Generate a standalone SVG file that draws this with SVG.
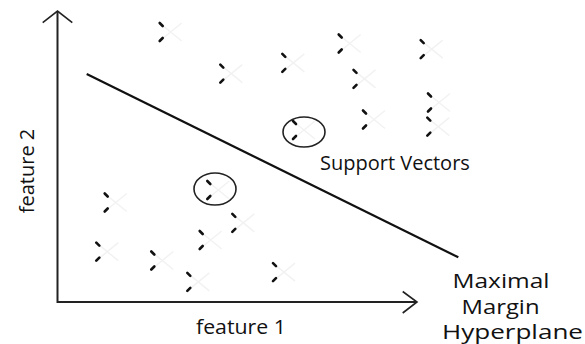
<svg xmlns="http://www.w3.org/2000/svg" width="585" height="344" viewBox="0 0 585 344">
<style>
.ax{stroke:#222;stroke-width:2;fill:none}
.hd{stroke:#222;stroke-width:1.6;fill:none}
.hp{stroke:#111;stroke-width:2.2;fill:none}
.sv{stroke:#222;stroke-width:1.6;fill:none}
.lb{font-family:"Open Sans","Noto Sans",sans-serif;font-size:20px;fill:#111}
.f{stroke:#f2f2f2;stroke-width:1.5;fill:none}
.d{stroke:#111;stroke-width:2.6;stroke-linecap:round;fill:none}
</style>
<defs>
<g id="mk">
<path class="f" d="M-2,-9 L20,9 M-2,9 L20,-9"/>
<path class="d" d="M-2,-9 L1,-6 M1,6 L-2,9"/>
</g>
</defs>
<g id="points">
<use href="#mk" x="161.7" y="32"/>
<use href="#mk" x="222.3" y="73.7"/>
<use href="#mk" x="284.3" y="62.8"/>
<use href="#mk" x="340.7" y="43.5"/>
<use href="#mk" x="422.7" y="49.2"/>
<use href="#mk" x="355.5" y="78.8"/>
<use href="#mk" x="430" y="102.5"/>
<use href="#mk" x="429.3" y="126.7"/>
<use href="#mk" x="365" y="119.5"/>
<use href="#mk" x="295" y="130"/>
<use href="#mk" x="106.7" y="202.5"/>
<use href="#mk" x="98.3" y="251.7"/>
<use href="#mk" x="153.3" y="260.5"/>
<use href="#mk" x="189.3" y="281.8"/>
<use href="#mk" x="201.7" y="240"/>
<use href="#mk" x="209.3" y="190"/>
<use href="#mk" x="234.3" y="222.8"/>
<use href="#mk" x="275" y="272.2"/>
</g>
<g id="support-circles">
<ellipse class="sv" cx="215" cy="189" rx="21" ry="16"/>
<ellipse class="sv" cx="304" cy="132" rx="21" ry="15"/>
</g>
<g id="connectors">
<path class="ax" d="M57.5,11 L57.5,302 L417,302"/>
<path class="hd" d="M42.7,22.7 L57.5,11 L72.3,22.7"/>
<path class="hd" d="M402.7,291.5 L417,302 L402.7,313"/>
<path class="hp" d="M86.7,74 L458.3,257.3"/>
</g>
<g id="labels">
<text class="lb" transform="translate(34,171) rotate(-90)" text-anchor="middle">feature 2</text>
<text class="lb" x="196" y="334" textLength="90" lengthAdjust="spacingAndGlyphs">feature 1</text>
<text class="lb" x="320" y="170">Support Vectors</text>
<text class="lb" x="452.5" y="288" textLength="97" lengthAdjust="spacingAndGlyphs">Maximal</text>
<text class="lb" x="461.5" y="314" textLength="78" lengthAdjust="spacingAndGlyphs">Margin</text>
<text class="lb" x="442" y="338.5" textLength="141" lengthAdjust="spacingAndGlyphs">Hyperplane</text>
</g>
</svg>
